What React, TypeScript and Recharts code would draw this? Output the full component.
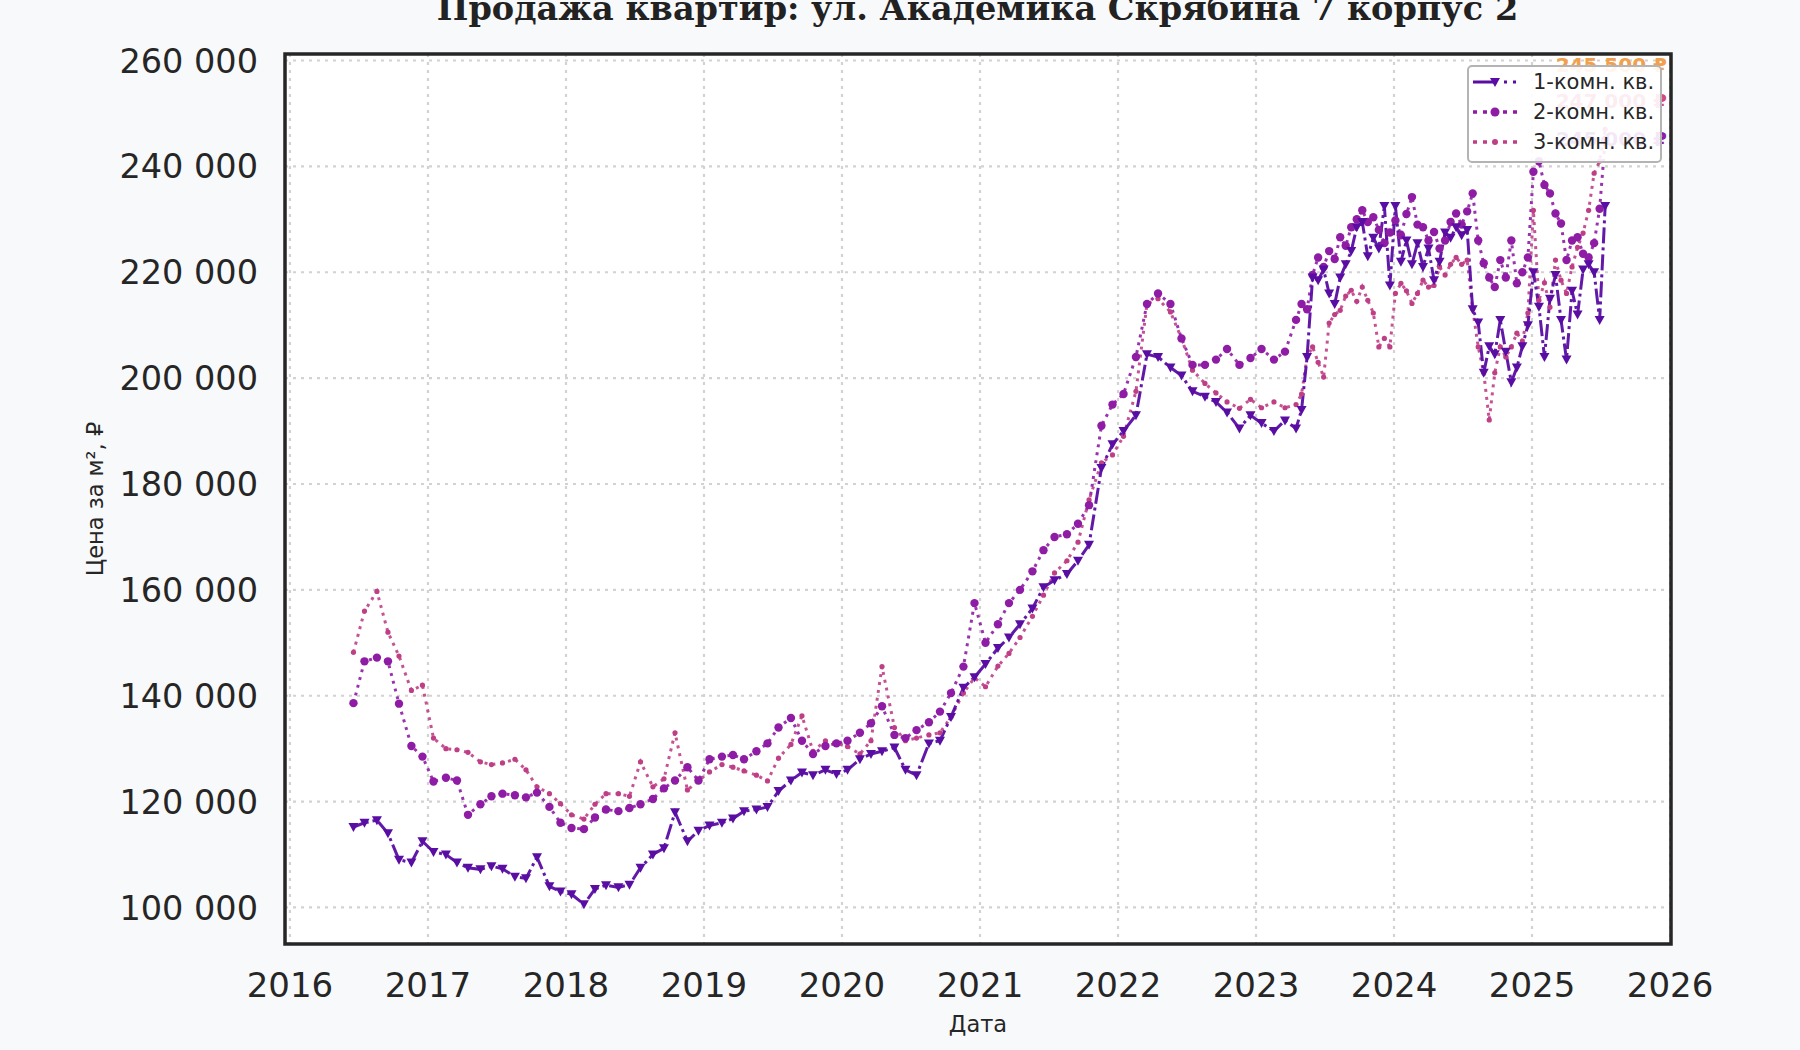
import React from "react";

import {
  LineChart,
  Line,
  XAxis,
  YAxis,
  CartesianGrid,
  Legend,
  Label,
  ReferenceArea,
  ReferenceDot
} from "recharts";

// fractional years: monthly until spring 2023, then every ~2 weeks
const dates = [
  2016.46, 2016.54, 2016.63, 2016.71, 2016.79, 2016.88, 2016.96,
  2017.04, 2017.13, 2017.21, 2017.29, 2017.38, 2017.46, 2017.54, 2017.63, 2017.71, 2017.79, 2017.88, 2017.96,
  2018.04, 2018.13, 2018.21, 2018.29, 2018.38, 2018.46, 2018.54, 2018.63, 2018.71, 2018.79, 2018.88, 2018.96,
  2019.04, 2019.13, 2019.21, 2019.29, 2019.38, 2019.46, 2019.54, 2019.63, 2019.71, 2019.79, 2019.88, 2019.96,
  2020.04, 2020.13, 2020.21, 2020.29, 2020.38, 2020.46, 2020.54, 2020.63, 2020.71, 2020.79, 2020.88, 2020.96,
  2021.04, 2021.13, 2021.21, 2021.29, 2021.38, 2021.46, 2021.54, 2021.63, 2021.71, 2021.79, 2021.88, 2021.96,
  2022.04, 2022.13, 2022.21, 2022.29, 2022.38, 2022.46, 2022.54, 2022.63, 2022.71, 2022.79, 2022.88, 2022.96,
  2023.04, 2023.13, 2023.21, 2023.29,
  2023.33, 2023.37, 2023.41, 2023.45, 2023.49, 2023.53, 2023.57, 2023.61, 2023.65, 2023.69, 2023.73, 2023.77,
  2023.81, 2023.85, 2023.89, 2023.93, 2023.97,
  2024.01, 2024.05, 2024.09, 2024.13, 2024.17, 2024.21, 2024.25, 2024.29, 2024.33, 2024.37, 2024.41, 2024.45,
  2024.49, 2024.53, 2024.57, 2024.61, 2024.65, 2024.69, 2024.73, 2024.77, 2024.81, 2024.85, 2024.89, 2024.93, 2024.97,
  2025.01, 2025.05, 2025.09, 2025.13, 2025.17, 2025.21, 2025.25, 2025.29, 2025.33, 2025.37, 2025.41, 2025.45,
  2025.49, 2025.53
];

const oneRoom = [
  115200, 116000, 116500, 114000, 109000, 108500, 112500,
  110500, 110000, 108500, 107500, 107200, 107800, 107300, 105800, 105500, 109500, 104000, 103000,
  102500, 100600, 103500, 104200, 103800, 104300, 107500, 110000, 111200, 118000, 112500, 114500,
  115500, 116000, 116800, 118200, 118500, 119000, 122000, 124000, 125500, 125000, 126000, 125200,
  126000, 128000, 129000, 129500, 130200, 126000, 125000, 131000, 131500, 136000, 141500, 143500,
  146000, 149000, 151000, 153500, 156500, 160500, 161800, 163000, 165500, 168500, 183000, 187500,
  190000, 193000, 204500, 204000, 202000, 200500, 197500, 196500, 195500, 193500, 190500, 193000,
  191500, 190000, 192000, 190500,
  194000, 204000, 219000, 218500, 220500, 216000, 214000, 219000, 221500, 224000, 228500, 229500,
  223000, 226500, 224500, 232500, 217500,
  232500, 222000, 226000, 221500, 225500, 221000, 224500, 218500, 222000, 227500, 226500, 228500,
  227000, 228000, 213000, 210500, 201000, 206000, 204500, 211000, 205000, 199200, 202000, 206000, 210000,
  220000, 213500, 204000, 215000, 219500, 211000, 203500, 216500, 212000, 220500, 221500, 220000,
  211000, 232500
];

const twoRoom = [
  138600, 146500, 147200, 146500, 138500, 130500, 128500,
  123800, 124500, 124000, 117500, 119500, 121000, 121500, 121200, 120800, 121700, 119000, 116000,
  115000, 114800, 117000, 118500, 118200, 118800, 119500, 120500, 122500, 124000, 126500, 124000,
  128000, 128500, 128800, 128000, 129500, 131000, 134000, 135800, 131500, 129000, 130500, 131000,
  131500, 133000, 134800, 138000, 132600, 132000, 133500, 135000, 137000, 140500, 145500, 157500,
  150000, 153500, 157500, 160000, 163500, 167500, 170000, 170500, 172500, 176000, 191000, 195000,
  197000, 204000, 214000, 216000, 214000, 207500, 202500, 202500, 203500, 205500, 202500, 203800,
  205500, 203500, 205000, 211000,
  214000, 213000, 219500, 222800, 221000, 224000, 222500, 226600, 225000, 228500, 230000, 231700,
  229500, 230400, 228000, 225500, 227500,
  229800, 227000, 231000, 234200, 229000, 228500, 226000, 227600, 224500, 226000, 229500, 231100,
  229000, 231500, 234900, 226000, 221700, 219000, 217200, 222300, 219000, 226000, 217900, 220000, 222800,
  239000, 241000, 236500, 234900, 231100, 229200, 222300, 226000, 226600, 223500, 222800, 225500,
  232000, 245000
];

const threeRoom = [
  148200, 156000, 159700, 152000, 147500, 141000, 142000,
  132000, 130000, 129800, 129300, 127500, 127000, 127300, 128000, 126000, 122800, 121500, 119600,
  117500, 116700, 119500, 121500, 121500, 121000, 127500, 122800, 124300, 133000, 122200, 123900,
  125600, 127000, 126500, 125800, 125000, 123900, 128200, 130800, 136200, 129500, 131500, 131000,
  130400, 129000, 131500, 145500, 134000, 131500, 132000, 132600, 133000, 136000, 140500, 143400,
  141700, 145600, 148000, 151000, 155000, 159000, 163200, 165500, 169000, 177000, 184000, 185500,
  189000, 197500, 214000, 215000, 212500, 207500, 201500, 199000, 197200, 195500, 194300, 196000,
  194400, 195500, 194400, 195000,
  197000, 204000, 205900, 203000, 200200, 210400, 212000, 212800, 215500, 216600, 214500, 217200,
  214700, 212300, 205900, 207500, 205900,
  216000, 217900, 216500, 214100, 216000, 218500, 217200, 217500, 221000, 219500, 221500, 222800,
  221500, 222300, 213000, 205900, 201000, 192100, 201000, 205900, 204000, 205900, 208500, 207000, 212300,
  231700, 214700, 218000, 213400, 222300, 218500, 216000, 221000, 224700, 227400, 231700, 238700,
  241000, 247000
];

const yearTicks = [2016, 2017, 2018, 2019, 2020, 2021, 2022, 2023, 2024, 2025, 2026];
const priceTicks = [100000, 120000, 140000, 160000, 180000, 200000, 220000, 240000, 260000];

const seriesNames = ["1-комн. кв.", "2-комн. кв.", "3-комн. кв."];

// last-price labels, mostly hidden under the legend
const noteValues = [259200, 252400, 245200];
const noteTexts = ["245 500 ₽", "247 000 ₽", "245 000 ₽"];
const noteColors = ["#f2a04c", "#d4487a", "#8f1ca5"];

const X_MIN = 2015.964;
const X_MAX = 2026.007;
const Y_MIN = 93100;
const Y_MAX = 261230;

const C1 = "#5a0da3";
const C2 = "#8f1ca5";
const C3 = "#bf3f87";
const INK = "#262626";

const data = dates.map((d, i) => ({
  date: d,
  r1: oneRoom[i],
  r2: twoRoom[i],
  r3: threeRoom[i]
}));

const fmt = (v: number) => String(v).replace(/\B(?=(\d{3})+(?!\d))/g, " ");

const XTick = (p: any) => (
  <text x={p.x} y={p.y + 53} textAnchor="middle" fontSize={34} fill={INK} fontFamily="DejaVu Sans">
    {p.payload.value}
  </text>
);

const YTick = (p: any) => (
  <text x={p.x - 27} y={p.y} dy="0.36em" textAnchor="end" fontSize={33.5} fill={INK} fontFamily="DejaVu Sans">
    {fmt(p.payload.value)}
  </text>
);

const triDot = (p: any) => (
  <path
    key={"t" + p.index}
    d={`M${p.cx - 5},${p.cy - 4} L${p.cx + 5},${p.cy - 4} L${p.cx},${p.cy + 5} Z`}
    fill={C1}
  />
);

const bigDot = (p: any) => <circle key={"b" + p.index} cx={p.cx} cy={p.cy} r={4.2} fill={C2} />;

const smallDot = (p: any) => <circle key={"s" + p.index} cx={p.cx} cy={p.cy} r={2.6} fill={C3} />;

const LegendBox = () => (
  <div
    style={{
      width: 195,
      height: 98,
      boxSizing: "border-box",
      border: "2.5px solid #b4b4b4",
      borderRadius: 5,
      background: "rgba(255,255,255,0.9)",
      paddingLeft: 4,
      fontFamily: "DejaVu Sans",
      fontSize: 21,
      color: INK
    }}
  >
    {seriesNames.map((name, i) => (
      <div key={name} style={{ height: 30, display: "flex", alignItems: "center" }}>
        <svg width={46} height={20} style={{ display: "block" }}>
          {i === 0 && (
            <>
              <line x1={0} y1={10} x2={46} y2={10} stroke={C1} strokeWidth={3} strokeDasharray="24 7 3 6 3 10" />
              <path d="M17,6 L27,6 L22,15 Z" fill={C1} />
            </>
          )}
          {i === 1 && (
            <>
              <line x1={0} y1={10} x2={46} y2={10} stroke={C2} strokeWidth={3.5} strokeDasharray="4 6" />
              <circle cx={22} cy={10} r={4.5} fill={C2} />
            </>
          )}
          {i === 2 && (
            <>
              <line x1={0} y1={10} x2={46} y2={10} stroke={C3} strokeWidth={3.5} strokeDasharray="4 6" />
              <circle cx={22} cy={10} r={3} fill={C3} />
            </>
          )}
        </svg>
        <span style={{ marginLeft: 14, lineHeight: "30px" }}>{name}</span>
      </div>
    ))}
  </div>
);

const yLabel = (p: any) => {
  const vb = p.viewBox;
  const cy = vb.y + vb.height / 2;
  return (
    <text
      x={95}
      y={cy}
      transform={`rotate(-90 95 ${cy})`}
      textAnchor="middle"
      dominantBaseline="central"
      fontSize={22.5}
      fill={INK}
      fontFamily="DejaVu Sans"
    >
      Цена за м², ₽
    </text>
  );
};

const xLabel = (p: any) => {
  const vb = p.viewBox;
  return (
    <text x={vb.x + vb.width / 2} y={vb.y + 88} textAnchor="middle" fontSize={22.5} fill={INK} fontFamily="DejaVu Sans">
      Дата
    </text>
  );
};

export default function App() {
  return (
    <div style={{ position: "absolute", left: 0, top: 0, width: 1800, height: 1050, background: "#f8f9fa", overflow: "hidden" }}>
      <div
        style={{
          position: "absolute",
          left: 0,
          width: 1955,
          top: -8,
          textAlign: "center",
          fontFamily: "DejaVu Serif",
          fontWeight: "bold",
          fontSize: 33.5,
          lineHeight: "34px",
          color: "#222222",
          whiteSpace: "nowrap"
        }}
      >
        Продажа квартир: ул. Академика Скрябина 7 корпус 2
      </div>

      <LineChart width={1800} height={1050} data={data} margin={{ top: 54, right: 129, bottom: 0, left: 0 }}>
        <CartesianGrid fill="#ffffff" stroke="#d2d2d2" strokeWidth={2.2} strokeDasharray="3 5" />
        <XAxis
          dataKey="date"
          type="number"
          domain={[X_MIN, X_MAX]}
          ticks={yearTicks}
          allowDataOverflow
          height={106}
          axisLine={false}
          tickLine={false}
          tickSize={0}
          tickMargin={0}
          tick={<XTick />}
          interval={0}
        >
          <Label content={xLabel} />
        </XAxis>
        <YAxis
          type="number"
          domain={[Y_MIN, Y_MAX]}
          ticks={priceTicks}
          allowDataOverflow
          width={285}
          axisLine={false}
          tickLine={false}
          tickSize={0}
          tickMargin={0}
          tick={<YTick />}
          interval={0}
        >
          <Label content={yLabel} />
        </YAxis>

        {noteValues.map((v, i) => (
          <ReferenceDot
            key={"n" + i}
            x={X_MAX}
            y={v}
            r={0}
            ifOverflow="visible"
            shape={(p: any) => (
              <text
                x={p.cx - 4}
                y={p.cy}
                dy="0.36em"
                textAnchor="end"
                fontSize={20}
                fontWeight="bold"
                fill={noteColors[i]}
                fontFamily="DejaVu Sans"
              >
                {noteTexts[i]}
              </text>
            )}
          />
        ))}

        <Line
          dataKey="r3"
          name={seriesNames[2]}
          stroke={C3}
          strokeWidth={3}
          strokeDasharray="3 5"
          strokeOpacity={0.9}
          dot={smallDot}
          activeDot={false}
          isAnimationActive={false}
        />
        <Line
          dataKey="r2"
          name={seriesNames[1]}
          stroke={C2}
          strokeWidth={3}
          strokeDasharray="3 5"
          strokeOpacity={0.9}
          dot={bigDot}
          activeDot={false}
          isAnimationActive={false}
        />
        <Line
          dataKey="r1"
          name={seriesNames[0]}
          stroke={C1}
          strokeWidth={3}
          strokeDasharray="16 4 3 4"
          strokeOpacity={0.95}
          dot={triDot}
          activeDot={false}
          isAnimationActive={false}
        />

        <ReferenceArea
          x1={X_MIN}
          x2={X_MAX}
          y1={Y_MIN}
          y2={Y_MAX}
          ifOverflow="visible"
          fill="none"
          stroke={INK}
          strokeWidth={3.5}
        />

        <Legend
          layout="horizontal"
          verticalAlign="middle"
          align="center"
          content={<LegendBox />}
          wrapperStyle={{ position: "absolute", left: 1467, top: 65, width: 195, height: 98 }}
        />
      </LineChart>
    </div>
  );
}
